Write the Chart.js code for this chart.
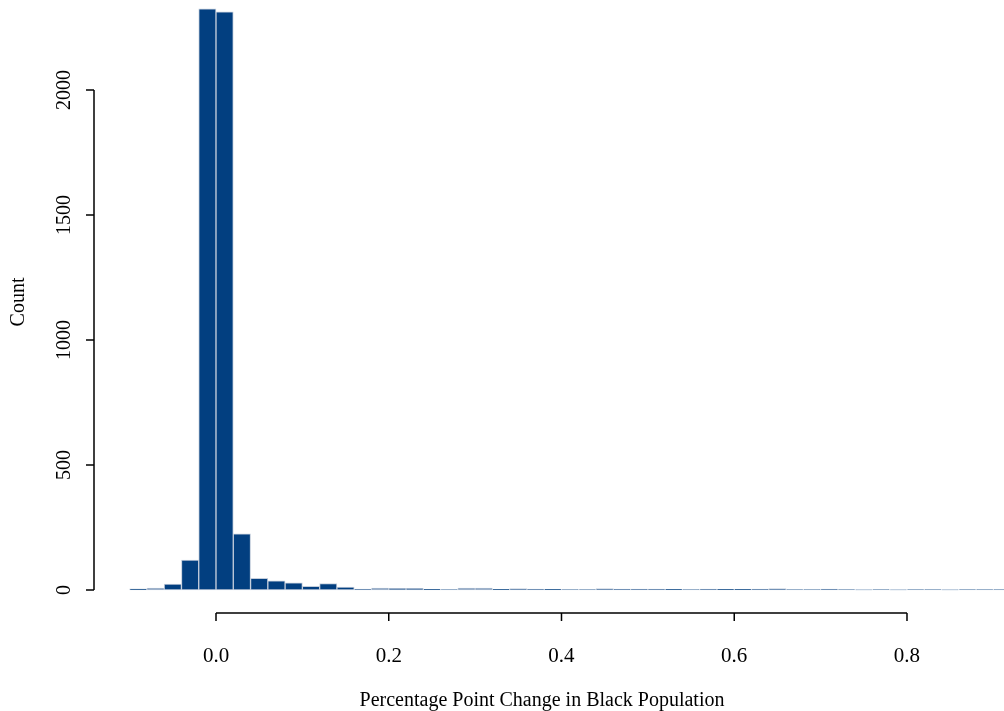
<!DOCTYPE html>
<html>
<head>
<meta charset="utf-8">
<script src="https://cdn.jsdelivr.net/npm/chart.js@4/dist/chart.umd.min.js"></script>
<style>
  html, body { margin: 0; padding: 0; background: #fff; }
  #wrap { width: 1004px; height: 711px; position: relative; }
</style>
</head>
<body>
<div id="wrap"><canvas id="hist"></canvas></div>
<script>
// histogram bins (centre of each 0.02 wide bin) and counts
const binCenters = [
  -0.09, -0.07, -0.05, -0.03, -0.01, 0.01, 0.03, 0.05, 0.07, 0.09,
  0.11, 0.13, 0.15, 0.17, 0.19, 0.21, 0.23, 0.25, 0.27, 0.29,
  0.31, 0.33, 0.35, 0.37, 0.39, 0.41, 0.43, 0.45, 0.47, 0.49,
  0.51, 0.53, 0.55, 0.57, 0.59, 0.61, 0.63, 0.65, 0.67, 0.69,
  0.71, 0.73, 0.75, 0.77, 0.79, 0.81, 0.83, 0.85, 0.87, 0.89, 0.91
];
const counts = [
  5, 8, 24, 120, 2325, 2313, 225, 47, 37, 29,
  15, 26, 12, 4, 8, 7, 7, 3, 2, 8,
  8, 3, 6, 4, 3, 2, 2, 6, 4, 4,
  4, 3, 2, 4, 3, 3, 4, 6, 2, 2,
  4, 2, 1, 2, 1, 2, 2, 1, 2, 2, 2
];
const xTicks = [0.0, 0.2, 0.4, 0.6, 0.8];
const yTicks = [0, 500, 1000, 1500, 2000];

const xTitle = 'Percentage Point Change in Black Population';
const yTitle = 'Count';
const SERIF = '"Liberation Serif", "DejaVu Serif", serif';

// R style axes: lines only span the tick range, ticks pointing outwards
const rAxes = {
  id: 'rAxes',
  afterDraw(chart) {
    const { ctx, chartArea, scales: { x, y } } = chart;
    const axY = chartArea.bottom;
    const axX = chartArea.left;
    ctx.save();
    ctx.strokeStyle = '#000';
    ctx.lineWidth = 1.5;
    ctx.fillStyle = '#000';

    // x axis
    ctx.beginPath();
    ctx.moveTo(x.getPixelForValue(xTicks[0]), axY);
    ctx.lineTo(x.getPixelForValue(xTicks[xTicks.length - 1]), axY);
    xTicks.forEach(v => {
      const px = x.getPixelForValue(v);
      ctx.moveTo(px, axY);
      ctx.lineTo(px, axY + 8);
    });
    ctx.stroke();
    ctx.font = '21px ' + SERIF;
    ctx.textAlign = 'center';
    ctx.textBaseline = 'middle';
    xTicks.forEach(v => ctx.fillText(v.toFixed(1), x.getPixelForValue(v), axY + 43));

    // y axis
    ctx.beginPath();
    ctx.moveTo(axX, y.getPixelForValue(yTicks[0]));
    ctx.lineTo(axX, y.getPixelForValue(yTicks[yTicks.length - 1]));
    yTicks.forEach(v => {
      const py = y.getPixelForValue(v);
      ctx.moveTo(axX, py);
      ctx.lineTo(axX - 8, py);
    });
    ctx.stroke();
    ctx.font = '20px ' + SERIF;
    yTicks.forEach(v => {
      ctx.save();
      ctx.translate(axX - 29, y.getPixelForValue(v));
      ctx.rotate(-Math.PI / 2);
      ctx.fillText(String(v), 0, 0);
      ctx.restore();
    });

    // titles
    ctx.font = '20px ' + SERIF;
    ctx.fillText(xTitle, 542, axY + 88);
    ctx.save();
    ctx.translate(19, 302);
    ctx.rotate(-Math.PI / 2);
    ctx.fillText(yTitle, 0, 0);
    ctx.restore();
    ctx.restore();
  }
};

new Chart(document.getElementById('hist'), {
  type: 'bar',
  data: {
    datasets: [{
      label: yTitle,
      data: binCenters.map((c, i) => ({ x: c, y: counts[i] })),
      backgroundColor: '#023f80',
      borderColor: '#c3cddb',
      borderWidth: 1,
      borderSkipped: false,
      barPercentage: 1,
      categoryPercentage: 1
    }]
  },
  options: {
    responsive: true,
    maintainAspectRatio: false,
    animation: false,
    layout: { padding: { left: 94, right: 0, top: 0, bottom: 98 } },
    plugins: { legend: { display: false }, tooltip: { enabled: false } },
    scales: {
      x: { type: 'linear', offset: false, min: -0.14125, max: 0.91231, display: false },
      y: { type: 'linear', min: -92, max: 2360, display: false }
    }
  },
  plugins: [rAxes]
});
</script>
</body>
</html>
